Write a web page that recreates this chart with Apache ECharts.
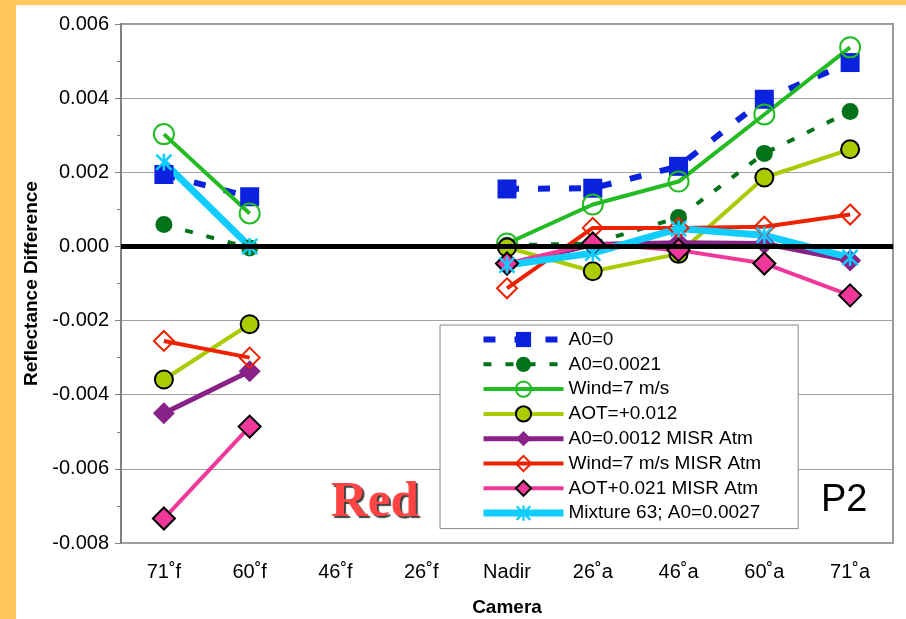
<!DOCTYPE html>
<html><head><meta charset="utf-8">
<script src="https://cdn.jsdelivr.net/npm/echarts@6/dist/echarts.min.js"></script>
<style>html,body{margin:0;padding:0;background:#FFC85A;} #c{width:906px;height:619px;}</style>
</head><body><div id="c"></div>
<script>
// ---- data ----
const categories = ['71˚f','60˚f','46˚f','26˚f','Nadir','26˚a','46˚a','60˚a','71˚a'];
const yTicks = [-0.008, -0.006, -0.004, -0.002, 0.000, 0.002, 0.004, 0.006];
const seriesNames = ['A0=0','A0=0.0021','Wind=7 m/s','AOT=+0.012','A0=0.0012 MISR Atm','Wind=7 m/s MISR Atm','AOT+0.021 MISR Atm','Mixture 63; A0=0.0027'];
const a0_0        = [0.00194, 0.00134, null, null, 0.00155, 0.00157, 0.00216, 0.00397, 0.00496];
const a0_0021     = [0.00059, -0.00004, null, null, 0.00003, 0.00008, 0.00078, 0.00251, 0.00364];
const wind7       = [0.00303, 0.00089, null, null, 0.00008, 0.00113, 0.00175, 0.00356, 0.00537];
const aot012      = [-0.00359, -0.0021, null, null, -0.00003, -0.00067, -0.0002, 0.00186, 0.00262];
const a0_0012Misr = [-0.0045, -0.00337, null, null, -0.0005, 0.00005, 0.0001, 0.00008, -0.00038];
const wind7Misr   = [-0.00255, -0.003, null, null, -0.00113, 0.0005, 0.0005, 0.00053, 0.00086];
const aot021Misr  = [-0.00734, -0.00486, null, null, -0.00046, 0.00008, -0.0001, -0.00046, -0.00132];
const mixture63   = [0.00227, 0.0, null, null, -0.0005, -0.00018, 0.00048, 0.0003, -0.0003];

const FONT = '"Liberation Sans", Arial, sans-serif';
const STAR = 'path://M8.5,0L11.5,0L11.5,20L8.5,20ZM0,2.1L2.1,0L20,17.9L17.9,20ZM17.9,0L20,2.1L2.1,20L0,17.9Z';

const styles = [
  {symbol:'rect', size:19, line:'#0A22DD', width:6, dash:[12,19], fill:'#0A22DD'},
  {symbol:'circle', size:17, line:'#00731A', width:4, dash:[8,14], fill:'#00731A'},
  {symbol:'circle', size:20, line:'#22BB22', width:4, fill:'rgba(0,0,0,0)', border:'#22BB22', bw:2},
  {symbol:'circle', size:18, line:'#A8CC00', width:4, fill:'#A8CC00', border:'#000', bw:2},
  {symbol:'diamond', size:22, line:'#882288', width:5, fill:'#882288'},
  {symbol:'diamond', size:20, line:'#EE2200', width:4, fill:'rgba(0,0,0,0)', border:'#EE2200', bw:2},
  {symbol:'diamond', size:22, line:'#F0389A', width:4, fill:'#F0389A', border:'#000', bw:2},
  {symbol:STAR, size:17, line:'#11CCFF', width:7, fill:'#11CCFF'}
];
const dataSets = [a0_0, a0_0021, wind7, aot012, a0_0012Misr, wind7Misr, aot021Misr, mixture63];

const series = dataSets.map(function(d, i){
  const o = styles[i];
  return {
    name: seriesNames[i], type: 'line', data: d, connectNulls: false,
    symbol: o.symbol, symbolSize: o.size,
    lineStyle: { color: o.line, width: o.width, type: o.dash || 'solid' },
    itemStyle: { color: o.fill, borderColor: o.border || o.fill, borderWidth: o.bw || 0 },
    emphasis: { disabled: true },
    animation: false
  };
});
series[0].markLine = {
  silent: true, symbol: ['none','none'], label: {show:false},
  lineStyle: {color:'#000', width:5, type:'solid'},
  emphasis: {disabled:true},
  data: [{yAxis: 0}]
};

const legendData = seriesNames.map(function(n, i){
  const o = styles[i];
  return {
    name: n,
    lineStyle: { color: o.line, width: o.width, type: o.dash || 'solid' },
    itemStyle: { color: o.fill, borderColor: o.border || o.fill, borderWidth: o.bw || 0 }
  };
});

const chart = echarts.init(document.getElementById('c'), null, {renderer:'canvas'});
chart.setOption({
  animation: false,
  backgroundColor: '#FFC85A',
  graphic: [
    {type:'rect', z:-100, silent:true, shape:{x:16, y:5, width:890, height:614}, style:{fill:'#ffffff'}},
    {type:'text', left:331, top:477, silent:true, z:100,
     style:{text:'Red', fontFamily:'"Liberation Serif", "Times New Roman", serif', fontWeight:'bold', fontSize:51,
            fill:'#FF4444', textShadowColor:'rgba(30,30,30,0.85)', textShadowBlur:1, textShadowOffsetX:2, textShadowOffsetY:2}},
    {type:'text', left:821, top:482, silent:true, z:100,
     style:{text:'P2', fontFamily:FONT, fontSize:38, fill:'#000'}}
  ],
  grid: {left:121, right:13, top:24, bottom:76, show:true, borderColor:'#999', borderWidth:2,
         backgroundColor:'transparent', containLabel:false, outerBoundsMode:'none'},
  legend: {
    orient:'vertical', left:440, top:325, padding:[5,37,6,40],
    itemWidth:80, itemHeight:19, itemGap:5.8,
    backgroundColor:'#fff', borderColor:'#888', borderWidth:1,
    textStyle:{fontSize:19, color:'#000', fontFamily:FONT},
    selectedMode:false, data: legendData
  },
  xAxis: {
    type:'category', data: categories,
    axisLine:{lineStyle:{color:'#808080', width:2}},
    axisTick:{length:6, lineStyle:{color:'#808080', width:1}},
    axisLabel:{fontSize:20, color:'#000', fontFamily:FONT, margin:19},
    name:'Camera', nameLocation:'middle', nameGap:55,
    nameTextStyle:{fontWeight:'bold', fontSize:19, color:'#000', fontFamily:FONT}
  },
  yAxis: {
    type:'value', min: yTicks[0], max: yTicks[yTicks.length-1], interval: 0.002,
    axisLine:{show:true, lineStyle:{color:'#808080', width:2}},
    axisTick:{show:true, length:6, lineStyle:{color:'#808080', width:1}},
    minorTick:{show:true, splitNumber:2, length:4, lineStyle:{color:'#808080', width:1}},
    splitLine:{show:true, lineStyle:{color:'#a0a0a0', width:1}},
    axisLabel:{fontSize:20, color:'#000', fontFamily:FONT, margin:12,
      formatter: function(v){ var r = Math.round(v*1000)/1000; return (r===0?0:r).toFixed(3); }},
    name:'Reflectance Difference', nameLocation:'middle', nameGap:80,
    nameTextStyle:{fontWeight:'bold', fontSize:19, color:'#000', fontFamily:FONT}
  },
  series: series
});
</script></body></html>
